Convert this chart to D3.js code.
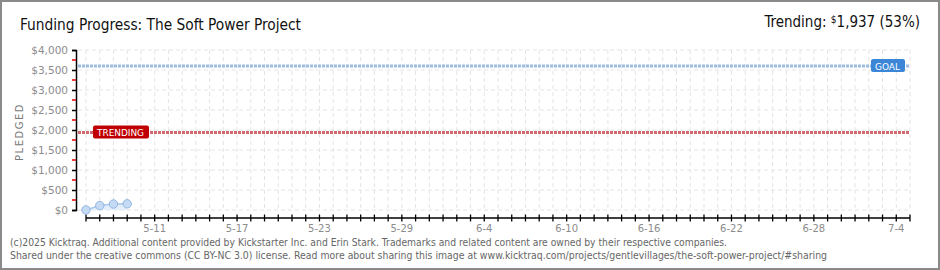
<!DOCTYPE html>
<html>
<head>
<meta charset="utf-8">
<script src="https://cdn.jsdelivr.net/npm/d3@7"></script>
<style>
  body { margin: 0; background: #fff; }
  svg { display: block; }
</style>
</head>
<body>
<svg id="chart" width="940" height="270"></svg>
<script>
// Chart data
const dates = ['2025-05-06', '2025-05-07', '2025-05-08', '2025-05-09'];
const pledged = [0, 110, 150, 155];
const yTicks = [0, 500, 1000, 1500, 2000, 2500, 3000, 3500, 4000];
const xLabels = ['5-11', '5-17', '5-23', '5-29', '6-4', '6-10', '6-16', '6-22', '6-28', '7-4'];
const goal = 3600;
const trending = 1937;
const trendingPct = 53;

const parse = d3.utcParse('%Y-%m-%d');
const data = dates.map((d, i) => ({ date: parse(d), value: pledged[i] }));

const svg = d3.select('#chart');
const W = 940, H = 270;

// frame
svg.append('rect')
    .attr('x', 1).attr('y', 1)
    .attr('width', W - 2).attr('height', H - 2)
    .attr('fill', '#fff')
    .attr('stroke', '#8a8a8a')
    .attr('stroke-width', 2);

// scales
const start = parse('2025-05-06');
const end = parse('2025-07-05');
const x = d3.scaleUtc().domain([start, end]).range([86, 910]);
const y = d3.scaleLinear().domain([0, 4000]).range([210, 50]);
const days = d3.utcDay.range(start, d3.utcDay.offset(end, 1));

// grid
const grid = svg.append('g').attr('stroke', '#e4e4e4').attr('stroke-dasharray', '4,3');
grid.selectAll('line.v')
    .data(days)
    .enter()
    .append('line')
    .attr('x1', d => x(d)).attr('x2', d => x(d))
    .attr('y1', y(4000)).attr('y2', y(0));
grid.selectAll('line.h')
    .data(yTicks)
    .enter()
    .append('line')
    .attr('x1', 78).attr('x2', 910)
    .attr('y1', d => y(d)).attr('y2', d => y(d));

// y axis
const yAxis = svg.append('g').attr('transform', 'translate(76,0)');
yAxis.call(d3.axisLeft(y).tickValues(yTicks).tickSize(4).tickPadding(4)
    .tickFormat(d => '$' + d3.format(',')(d)));
yAxis.select('.domain').attr('stroke', '#000').attr('stroke-width', 1.5);
yAxis.selectAll('.tick line').attr('stroke', '#000').attr('stroke-width', 1.5);
yAxis.selectAll('.tick text')
    .attr('fill', '#8c8c8c')
    .style('font-family', 'DejaVu Sans')
    .style('font-size', '10.5px');
// minor red ticks
svg.append('g').selectAll('line')
    .data(d3.range(250, 4000, 500))
    .enter()
    .append('line')
    .attr('x1', 72).attr('x2', 76)
    .attr('y1', d => y(d)).attr('y2', d => y(d))
    .attr('stroke', '#e00000')
    .attr('stroke-width', 1.5);

svg.append('text')
    .attr('transform', `translate(23,${y(1950)}) rotate(-90)`)
    .attr('text-anchor', 'middle')
    .attr('fill', '#7a7a7a')
    .style('font-family', 'DejaVu Sans')
    .style('font-size', '10px')
    .style('letter-spacing', '1.5px')
    .text('PLEDGED');

// x axis
const xAxis = svg.append('g');
xAxis.append('line')
    .attr('x1', x(start)).attr('x2', x(end))
    .attr('y1', 218).attr('y2', 218)
    .attr('stroke', '#000').attr('stroke-width', 1.5);
xAxis.selectAll('line.t')
    .data(days)
    .enter()
    .append('line')
    .attr('x1', d => x(d)).attr('x2', d => x(d))
    .attr('y1', 214.5).attr('y2', 221.5)
    .attr('stroke', '#000').attr('stroke-width', 1.3);
xAxis.selectAll('text')
    .data(xLabels)
    .enter()
    .append('text')
    .attr('x', d => x(parse('2025-' + d.split('-').map(v => v.padStart(2, '0')).join('-'))))
    .attr('y', 232)
    .attr('text-anchor', 'middle')
    .attr('fill', '#8c8c8c')
    .style('font-family', 'DejaVu Sans')
    .style('font-size', '10px')
    .text(d => d);

// goal + trending lines
function refLine(value, color, label, fill, lx, lw) {
    svg.append('line')
        .attr('x1', 78).attr('x2', 910)
        .attr('y1', y(value)).attr('y2', y(value))
        .attr('stroke', color)
        .attr('stroke-width', 3)
        .attr('stroke-dasharray', '3,1');
    svg.append('rect')
        .attr('x', lx).attr('y', y(value) - 7)
        .attr('width', lw).attr('height', 13)
        .attr('rx', 2)
        .attr('fill', fill);
    svg.append('text')
        .attr('x', lx + 4).attr('y', y(value) + 3.5)
        .attr('fill', '#fff')
        .style('font-family', 'DejaVu Sans')
        .style('font-size', '9.5px')
        .attr('textLength', lw - 9)
        .attr('lengthAdjust', 'spacingAndGlyphs')
        .text(label);
}
refLine(goal, '#9dbde3', 'GOAL', '#3b86d6', 871, 34);
refLine(trending, '#d06a6e', 'TRENDING', '#c00000', 93, 56);

// pledged area, line and points
const area = d3.area().x(d => x(d.date)).y0(y(0)).y1(d => y(d.value));
const line = d3.line().x(d => x(d.date)).y(d => y(d.value));
svg.append('path').datum(data).attr('d', area).attr('fill', '#e3eefb');
svg.append('path').datum(data).attr('d', line)
    .attr('fill', 'none').attr('stroke', '#a9c8ec').attr('stroke-width', 1.5);
svg.selectAll('circle.pt')
    .data(data)
    .enter()
    .append('circle')
    .attr('cx', d => x(d.date)).attr('cy', d => y(d.value))
    .attr('r', 4.2)
    .attr('fill', '#c4daf5')
    .attr('stroke', '#93b6e0')
    .attr('stroke-width', 1);

// titles
svg.append('text')
    .attr('x', 20).attr('y', 30)
    .attr('fill', '#111')
    .style('font-family', 'DejaVu Sans Condensed, DejaVu Sans')
    .style('font-size', '16px')
    .style('font-weight', '300')
    .attr('textLength', 281)
    .attr('lengthAdjust', 'spacingAndGlyphs')
    .text('Funding Progress: The Soft Power Project');

const tr = svg.append('text')
    .attr('x', 920).attr('y', 27)
    .attr('text-anchor', 'end')
    .attr('fill', '#111')
    .style('font-family', 'DejaVu Sans Condensed, DejaVu Sans')
    .style('font-size', '15px');
tr.append('tspan').text('Trending: ');
tr.append('tspan').text('$').style('font-size', '10px').attr('dy', -4);
tr.append('tspan').text(d3.format(',')(trending) + ' (' + trendingPct + '%)').attr('dy', 4);

// footer
const foot = [
    '(c)2025 Kicktraq. Additional content provided by Kickstarter Inc. and Erin Stark. Trademarks and related content are owned by their respective companies.',
    'Shared under the creative commons (CC BY-NC 3.0) license. Read more about sharing this image at www.kicktraq.com/projects/gentlevillages/the-soft-power-project/#sharing'
];
const footLen = [717, 817];
svg.selectAll('text.foot')
    .data(foot)
    .enter()
    .append('text')
    .attr('x', 10)
    .attr('y', (d, i) => 246 + i * 13)
    .attr('fill', '#666')
    .style('font-family', 'DejaVu Sans')
    .style('font-size', '10px')
    .attr('textLength', (d, i) => footLen[i])
    .attr('lengthAdjust', 'spacingAndGlyphs')
    .text(d => d);
</script>
</body>
</html>
